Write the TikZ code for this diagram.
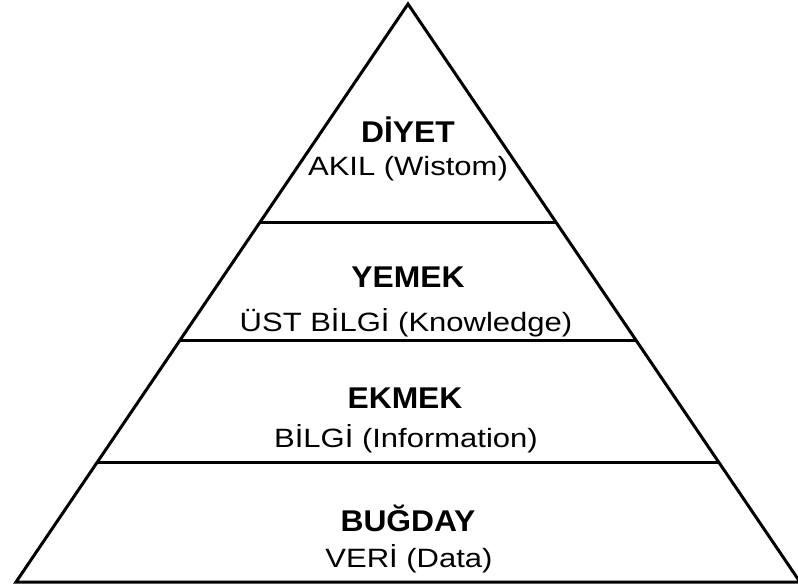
\documentclass[tikz,border=0pt]{standalone}
\usepackage{fontspec}
\setmainfont{Liberation Sans}
\newfontfamily\tierfont[FakeStretch=1.06]{Liberation Sans}
\newfontfamily\notefont[FakeStretch=1.17]{Liberation Sans}
\usetikzlibrary{calc}
\tikzset{
  edge/.style={line width=3pt, line join=miter},
  tier/.style={anchor=base, inner sep=0pt, font=\tierfont\bfseries\fontsize{30}{34}\selectfont},
  note/.style={anchor=base, inner sep=0pt, font=\notefont\fontsize{26.5}{30}\selectfont},
}
\begin{document}
\begin{tikzpicture}[x=1pt, y=-1pt]
  \useasboundingbox (0,0) rectangle (798,587);
  % outline of the pyramid
  \coordinate (apex) at (408,4);
  \coordinate (bl) at (16,582);
  \coordinate (br) at (800,582);
  \draw[edge] (bl) -- (apex) -- (br) -- cycle;
  % level dividers
  \foreach \t/\n in {0.3772/a, 0.5830/b, 0.7924/c} {
    \coordinate (l\n) at ($(apex)!\t!(bl)$);
    \coordinate (r\n) at ($(apex)!\t!(br)$);
    \draw[edge] (l\n) -- (r\n);
  }
  % labels
  \node[tier] (t1) at (408,142) {DİYET};
  \node[note] (n1) at (408,175.5) {AKIL (Wistom)};
  \node[tier] (t2) at (408,287) {YEMEK};
  \node[note] (n2) at (406,331) {ÜST BİLGİ (Knowledge)};
  \node[tier] (t3) at (405,408) {EKMEK};
  \node[note] (n3) at (406,447) {BİLGİ (Information)};
  \node[tier] (t4) at (408,531) {BUĞDAY};
  \node[note] (n4) at (409,567) {VERİ (Data)};
\end{tikzpicture}
\end{document}
